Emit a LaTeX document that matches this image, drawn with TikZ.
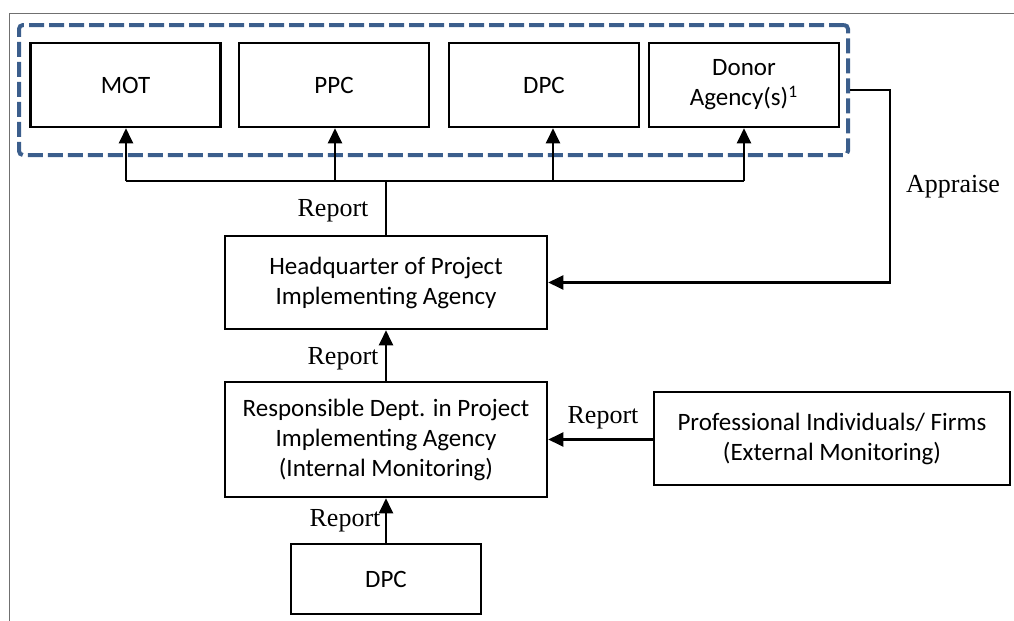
\documentclass[tikz,border=0pt]{standalone}
\usepackage{fontspec}
\setmainfont{Liberation Serif}
\newfontfamily\boxfont{Carlito}
\usetikzlibrary{arrows.meta,fit}
\definecolor{grpblue}{RGB}{59,94,140}
\definecolor{framegray}{RGB}{112,112,112}
\begin{document}
\begin{tikzpicture}[x=0.5pt,y=-0.5pt,
  box/.style={draw,line width=1.3pt,inner sep=0pt,align=center,
    font=\boxfont\fontsize{12.5}{15}\selectfont},
  lbl/.style={inner sep=0pt,font=\fontsize{13}{15}\selectfont},
  conn/.style={line width=1.2pt},
  arr/.style={conn,-{Triangle[length=7.5pt,width=7pt]}},
  grp/.style={draw=grpblue,line width=2pt,dash pattern=on 7.5pt off 2.5pt,rounded corners=2pt,inner sep=0pt}]
\useasboundingbox (0,0) rectangle (1014,621);
\draw[framegray,line width=0.5pt] (1014,13) -- (9,13) -- (9,621);
% top boxes
\node[box,minimum width=95pt,minimum height=42pt] (mot) at (125.5,85) {MOT};
\node[box,minimum width=95pt,minimum height=42pt] (ppc) at (334,85) {PPC};
\node[box,minimum width=95pt,minimum height=42pt] (dpc1) at (544,85) {DPC};
\node[box,minimum width=95pt,minimum height=42pt] (donor) at (744,85) {Donor\\Agency(s)\textsuperscript{1}};
\node[grp,fit={(19,25) (848,155)}] (group) {};
% middle boxes
\node[box,minimum width=161pt,minimum height=46.5pt] (hq) at (386,282.5) {Headquarter of Project\\Implementing Agency};
\node[box,minimum width=161pt,minimum height=57.5pt] (rd) at (386,439.5) {Responsible Dept. in Project\\Implementing Agency\\(Internal Monitoring)};
\node[box,minimum width=178pt,minimum height=46.5pt] (prof) at (832,438.5) {Professional Individuals/ Firms\\(External Monitoring)};
\node[box,minimum width=95pt,minimum height=35pt] (dpc2) at (386,579) {DPC};
% bus
\coordinate (busL) at (126,181);
\coordinate (busR) at (744,181);
\coordinate (busP) at (335,181);
\coordinate (busD) at (553,181);
\coordinate (busH) at (386,181);
\draw[conn] (busL) -- (busR);
\draw[arr] (busL) -- (mot.south -| busL);
\draw[arr] (busP) -- (ppc.south -| busP);
\draw[arr] (busD) -- (dpc1.south -| busD);
\draw[arr] (busR) -- (donor.south -| busR);
\draw[conn] (hq.north) -- (busH);
% appraise
\draw[arr] (group.east) -- ++(40,0) |- (hq.east);
% reports
\draw[arr] (rd.north) -- (hq.south);
\draw[arr] (prof.west |- rd.east) -- (rd.east);
\draw[arr] (dpc2.north) -- (rd.south);
% labels
\node[lbl] (l1) at (333,211) {Report};
\node[lbl] (l2) at (343,359) {Report};
\node[lbl] (l3) at (603,418) {Report};
\node[lbl] (l4) at (345,521) {Report};
\node[lbl] (l5) at (953,187) {Appraise};
\end{tikzpicture}
\end{document}
